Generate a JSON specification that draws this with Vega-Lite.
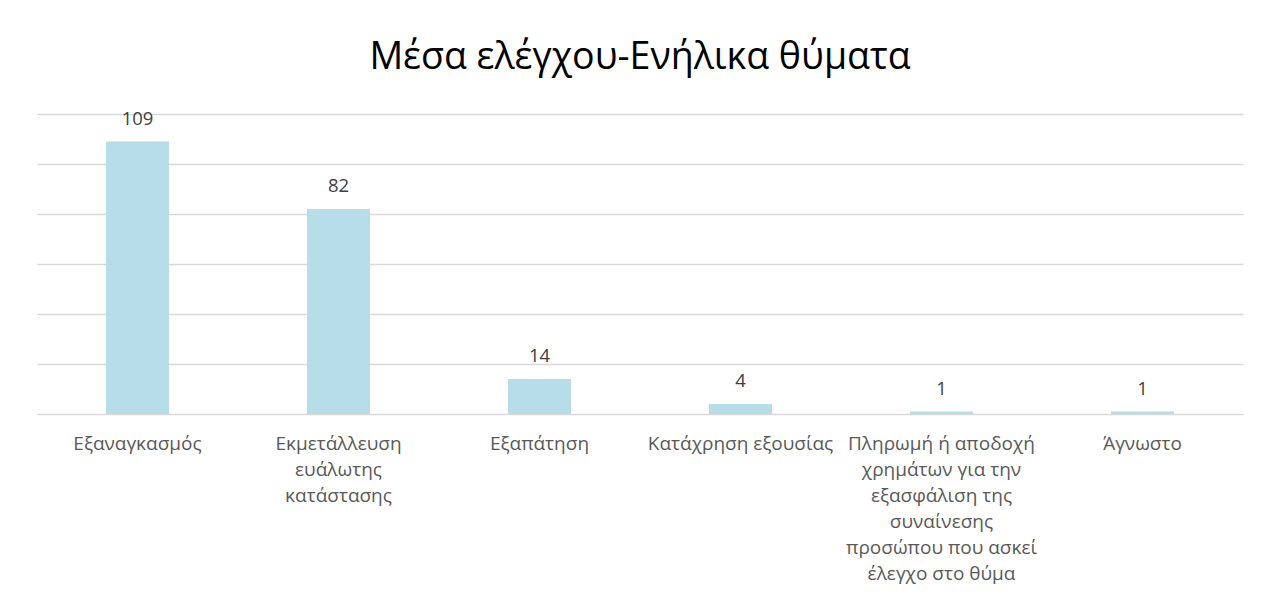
{
  "$schema": "https://vega.github.io/schema/vega-lite/v6.json",
  "autosize": "none",
  "width": 1206,
  "height": 300,
  "padding": {"left": 37, "top": 114, "right": 24, "bottom": 192},
  "background": "white",
  "title": {
    "text": "Μέσα ελέγχου-Ενήλικα θύματα",
    "font": "Open Sans",
    "fontSize": 37.5,
    "fontWeight": "normal",
    "color": "#000000",
    "anchor": "middle",
    "offset": 33
  },
  "data": {
    "values": [
      {"cat": "Εξαναγκασμός", "value": 109},
      {"cat": "Εκμετάλλευση ευάλωτης κατάστασης", "value": 82},
      {"cat": "Εξαπάτηση", "value": 14},
      {"cat": "Κατάχρηση εξουσίας", "value": 4},
      {"cat": "Πληρωμή ή αποδοχή χρημάτων για την εξασφάλιση της συναίνεσης προσώπου που ασκεί έλεγχο στο θύμα", "value": 1},
      {"cat": "Άγνωστο", "value": 1}
    ]
  },
  "config": {
    "view": {"stroke": null},
    "font": "Open Sans"
  },
  "encoding": {
    "x": {
      "field": "cat",
      "type": "nominal",
      "sort": null,
      "scale": {"paddingInner": 0.687, "paddingOuter": 0.3435},
      "axis": {
        "title": null,
        "labelAngle": 0,
        "domain": false,
        "ticks": false,
        "labelFont": "Open Sans",
        "labelFontSize": 19,
        "labelColor": "#595959",
        "labelPadding": 20,
        "labelBaseline": "top",
        "labelLineHeight": 26,
        "labelLimit": 0,
        "labelExpr": "datum.label == 'Εκμετάλλευση ευάλωτης κατάστασης' ? ['Εκμετάλλευση', 'ευάλωτης', 'κατάστασης'] : (indexof(datum.label, 'Πληρωμή') == 0 ? ['Πληρωμή ή αποδοχή', 'χρημάτων για την', 'εξασφάλιση της', 'συναίνεσης', 'προσώπου που ασκεί', 'έλεγχο στο θύμα'] : datum.label)"
      }
    },
    "y": {
      "field": "value",
      "type": "quantitative",
      "scale": {"domain": [0, 120], "nice": false},
      "axis": {
        "title": null,
        "labels": false,
        "ticks": false,
        "domain": false,
        "grid": true,
        "gridColor": "#d9d9d9",
        "gridWidth": 1.3,
        "values": [0, 20, 40, 60, 80, 100, 120]
      }
    }
  },
  "layer": [
    {"mark": {"type": "bar", "color": "#b7dde8"}},
    {
      "mark": {"type": "text", "baseline": "alphabetic", "dy": -17, "font": "Open Sans", "fontSize": 18.5, "color": "#404040"},
      "encoding": {"text": {"field": "value", "type": "quantitative"}}
    }
  ]
}
